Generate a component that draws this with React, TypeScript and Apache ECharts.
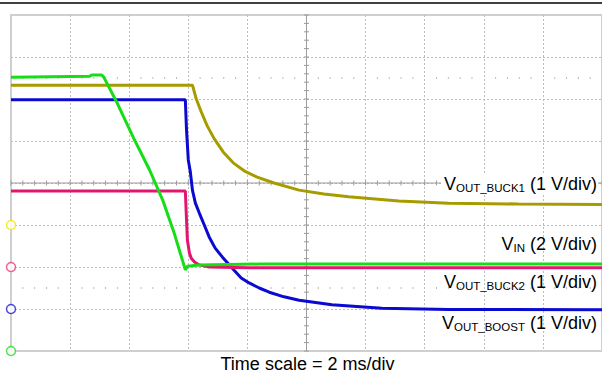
import React, { useEffect, useRef } from "react";
import * as echarts from "echarts";

// Time axis (ms), 2 ms/div, 10 divisions
const X_MIN = 0;
const X_MAX = 20;
const X_DIV = 2;
// Vertical axis in screen divisions, centre = 0
const Y_MIN = -4;
const Y_MAX = 4;
const Y_DIV = 1;
const MINOR_STEPS = 5;
const DOT_ROWS = [2.5, -2.5];

// V_IN (green)
const vinTime = [0, 2.66, 2.73, 3.07, 3.14, 3.61, 4.15, 4.69, 5.13, 5.53, 5.9, 5.97, 6.37, 8.4, 20.0];
const vinDiv = [2.52, 2.54, 2.57, 2.57, 2.52, 1.88, 1.07, 0.31, -0.4, -1.21, -2.07, -1.98, -1.95, -1.93, -1.93];

// V_OUT_BUCK1 (olive)
const buck1Time = [0, 6.14, 6.27, 6.44, 6.64, 6.88, 7.18, 7.52, 7.89, 8.33, 8.9, 9.75, 10.59, 11.43, 13.12, 14.81, 17.17, 20.0];
const buck1Div = [2.33, 2.33, 2.0, 1.69, 1.36, 1.05, 0.74, 0.48, 0.29, 0.14, 0.0, -0.17, -0.26, -0.33, -0.43, -0.48, -0.5, -0.51];

// V_OUT_BOOST (blue)
const boostTime = [0, 5.9, 5.94, 6.0, 6.07, 6.14, 6.24, 6.37, 6.54, 6.71, 6.91, 7.15, 7.45, 7.79, 8.06, 8.4, 8.74, 9.24, 9.75, 10.86, 12.55, 14.81, 20.0];
const boostDiv = [1.98, 1.98, 1.26, 0.55, 0.26, -0.17, -0.48, -0.71, -1.0, -1.29, -1.55, -1.76, -2.0, -2.26, -2.38, -2.5, -2.6, -2.71, -2.79, -2.9, -2.98, -3.01, -3.02];

// V_OUT_BUCK2 (pink)
const buck2Time = [0, 5.9, 5.94, 5.97, 6.04, 6.1, 6.21, 6.37, 6.71, 8.06, 20.0];
const buck2Div = [-0.19, -0.19, -0.88, -1.36, -1.67, -1.79, -1.88, -1.95, -2.0, -2.02, -2.02];

// Channel ground markers
const markerLevels = [-1, -2, -3, -4];
const markerColors = ["#f2e600", "#ee3a78", "#1c1cd6", "#22dd22"];

const COLORS = {
  vin: "#16dd16",
  buck1: "#a69c00",
  boost: "#0a0ad0",
  buck2: "#e2166e",
};

const pairs = (xs: number[], ys: number[]) => xs.map((x, i) => [x, ys[i]]);

const FONT = "'Liberation Sans', Arial, Helvetica, sans-serif";

const labelRich = {
  v: { fontSize: 18, lineHeight: 20, fontFamily: FONT, fill: "#000" },
  s: { fontSize: 11.5, lineHeight: 14, verticalAlign: "bottom", fontFamily: FONT, fill: "#000" },
  m: { fontSize: 18, lineHeight: 20, fontFamily: FONT, fill: "#000" },
};

function makeLabel(sub: string, rest: string, x: number, y: number, bg?: boolean) {
  return {
    type: "text",
    z: 100,
    style: {
      text: `{v|V}{s|${sub}}{m| ${rest}}`,
      rich: labelRich,
      x,
      y,
      align: "right",
      verticalAlign: "middle",
      backgroundColor: bg ? "#fff" : undefined,
      padding: bg ? [0, 1, 0, 3] : 0,
    },
  };
}

export default function App() {
  const ref = useRef<HTMLDivElement>(null);
  useEffect(() => {
    if (!ref.current) return;
    const chart = echarts.init(ref.current, undefined, { renderer: "svg" });
    const option: any = {
      animation: false,
      backgroundColor: "#fff",
      grid: {
        left: 11,
        top: 15,
        right: -2,
        bottom: 25,
        show: true,
        borderColor: "#cfcfcf",
        borderWidth: 2,
        backgroundColor: "transparent",
      },
      xAxis: {
        type: "value",
        min: X_MIN,
        max: X_MAX,
        interval: X_DIV,
        axisLine: { show: false },
        axisTick: { show: false },
        axisLabel: { show: false },
        splitLine: {
          show: true,
          showMinLine: false,
          showMaxLine: false,
          lineStyle: { color: "#bdbdbd", type: [2, 2], width: 1 },
        },
      },
      yAxis: {
        type: "value",
        min: Y_MIN,
        max: Y_MAX,
        interval: Y_DIV,
        axisLine: { show: false },
        axisTick: { show: false },
        axisLabel: { show: false },
        splitLine: {
          show: true,
          showMinLine: false,
          showMaxLine: false,
          lineStyle: { color: "#bdbdbd", type: [2, 2], width: 1 },
        },
      },
      graphic: [
        {
          type: "line",
          shape: { x1: 0, y1: 3, x2: 602, y2: 3 },
          style: { stroke: "#000", lineWidth: 1.6 },
          z: 100,
        },
        makeLabel("OUT_BUCK1", "(1 V/div)", 598, 184, true),
        makeLabel("IN", "(2 V/div)", 597, 244),
        makeLabel("OUT_BUCK2", "(1 V/div)", 597, 282),
        makeLabel("OUT_BOOST", "(1 V/div)", 597, 323),
        {
          type: "text",
          z: 100,
          style: {
            text: "Time scale = 2 ms/div",
            x: 307.5,
            y: 364,
            align: "center",
            verticalAlign: "middle",
            fontSize: 18,
            fontFamily: FONT,
            fill: "#000",
          },
        },
      ],
      series: [
        {
          type: "custom",
          silent: true,
          clip: false,
          z: 1,
          data: [[(X_MIN + X_MAX) / 2, 0]],
          renderItem: (_p: any, api: any) => {
            const children: any[] = [];
            const cx = (X_MIN + X_MAX) / 2;
            const [l, b] = api.coord([X_MIN, Y_MIN]);
            const [r, t] = api.coord([X_MAX, Y_MAX]);
            const [px, py] = api.coord([cx, 0]);
            const st = { stroke: "#9c9c9c", lineWidth: 1 };
            children.push({ type: "line", shape: { x1: l, y1: py, x2: r, y2: py }, style: st });
            children.push({ type: "line", shape: { x1: px, y1: t, x2: px, y2: b }, style: st });
            const xs = X_DIV / MINOR_STEPS;
            for (let i = 0; X_MIN + i * xs <= X_MAX + 1e-9; i++) {
              const [tx] = api.coord([X_MIN + i * xs, 0]);
              children.push({ type: "line", shape: { x1: tx, y1: py - 2.5, x2: tx, y2: py + 2.5 }, style: st });
              if (i % MINOR_STEPS !== 0) {
                DOT_ROWS.forEach((row) => {
                  const [, dy] = api.coord([X_MIN + i * xs, row]);
                  children.push({ type: "rect", shape: { x: tx - 0.5, y: dy - 1, width: 1, height: 2 }, style: { fill: "#bbbbbb" } });
                });
              }
            }
            const ys = Y_DIV / MINOR_STEPS;
            for (let i = 0; Y_MIN + i * ys <= Y_MAX + 1e-9; i++) {
              const [, ty] = api.coord([cx, Y_MIN + i * ys]);
              children.push({ type: "line", shape: { x1: px - 2.5, y1: ty, x2: px + 2.5, y2: ty }, style: st });
            }
            return { type: "group", children };
          },
        },
        {
          name: "VOUT_BUCK1",
          type: "line",
          data: pairs(buck1Time, buck1Div),
          showSymbol: false,
          lineStyle: { color: COLORS.buck1, width: 3 },
          z: 3,
        },
        {
          name: "VOUT_BOOST",
          type: "line",
          data: pairs(boostTime, boostDiv),
          showSymbol: false,
          lineStyle: { color: COLORS.boost, width: 3 },
          z: 3,
        },
        {
          name: "VOUT_BUCK2",
          type: "line",
          data: pairs(buck2Time, buck2Div),
          showSymbol: false,
          lineStyle: { color: COLORS.buck2, width: 3 },
          z: 3,
        },
        {
          name: "VIN",
          type: "line",
          data: pairs(vinTime, vinDiv),
          showSymbol: false,
          lineStyle: { color: COLORS.vin, width: 3 },
          z: 3,
        },
        {
          type: "scatter",
          clip: false,
          silent: true,
          symbol: "circle",
          symbolSize: 9,
          z: 5,
          data: markerLevels.map((lv, i) => ({
            value: [X_MIN, lv],
            itemStyle: { color: "#fff", borderColor: markerColors[i], borderWidth: 1.5 },
          })),
        },
      ],
    };
    chart.setOption(option);
    return () => chart.dispose();
  }, []);
  return (
    <div
      ref={ref}
      style={{ position: "fixed", left: 0, top: 0, width: 602, height: 376, background: "#fff" }}
    />
  );
}
